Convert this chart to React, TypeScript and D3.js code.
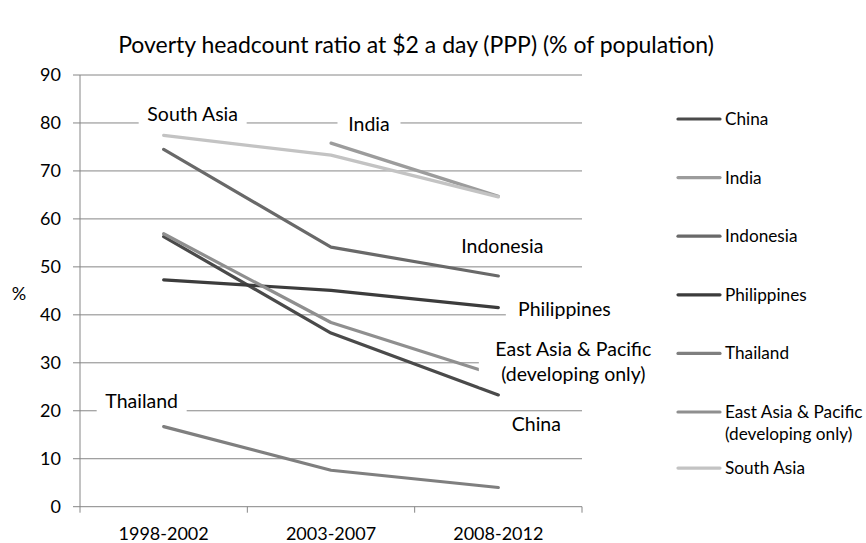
import React from "react";
import * as d3 from "d3";

// Periods on the category axis
const periods = ["1998-2002", "2003-2007", "2008-2012"];

// Poverty headcount ratio at $2 a day (% of population); null = no data
const china = [56.3, 36.2, 23.3];
const india = [null, 75.8, 64.7];
const indonesia = [74.5, 54.1, 48.1];
const philippines = [47.3, 45.1, 41.5];
const thailand = [16.7, 7.6, 4.0];
const eastAsiaPacific = [56.9, 38.4, 27.3];
const southAsia = [77.4, 73.3, 64.6];

const yTicks = [0, 10, 20, 30, 40, 50, 60, 70, 80, 90];

type Series = {
  name: string[];
  values: (number | null)[];
  color: string;
};

const series: Series[] = [
  { name: ["China"], values: china, color: "#4a4a4a" },
  { name: ["India"], values: india, color: "#9c9c9c" },
  { name: ["Indonesia"], values: indonesia, color: "#696969" },
  { name: ["Philippines"], values: philippines, color: "#3c3c3c" },
  { name: ["Thailand"], values: thailand, color: "#7f7f7f" },
  { name: ["East Asia & Pacific", "(developing only)"], values: eastAsiaPacific, color: "#8f8f8f" },
  { name: ["South Asia"], values: southAsia, color: "#c3c3c3" },
];

// In-plot series labels: anchored to a data point of the series, shifted in pixels
const annotations = [
  { series: 6, point: 0, dx: 29, dy: -14.5 },
  { series: 1, point: 1, dx: 38, dy: -12.5 },
  { series: 2, point: 2, dx: 4, dy: -23 },
  { series: 3, point: 2, dx: 66, dy: 8.5 },
  { series: 5, point: 2, dx: 75, dy: -19.5 },
  { series: 0, point: 2, dx: 38, dy: 36 },
  { series: 4, point: 0, dx: -22, dy: -18.5 },
];

const W = 866;
const H = 543;
const FONT = "Lato, 'Open Sans', sans-serif";

export default function App() {
  const left = 80;
  const right = 582;
  const top = 75;
  const bottom = 506.7;

  const x = d3.scaleBand<string>().domain(periods).range([left, right]);
  const xc = (i: number) => (x(periods[i]) as number) + x.bandwidth() / 2;
  const y = d3.scaleLinear().domain([0, 90]).range([bottom, top]);

  const line = d3
    .line<number | null>()
    .defined((d) => d !== null)
    .x((_, i) => xc(i))
    .y((d) => y(d as number));

  const axisSize = 18;
  const noteSize = 19.5;
  const lineGap = 25;

  const legendX = 678;
  const legendY0 = 119;
  const legendStep = 58.6;

  return (
    <svg
      width={W}
      height={H}
      style={{ position: "absolute", left: 0, top: 0, background: "#fff" }}
      fontFamily={FONT}
    >
      <rect width={W} height={H} fill="#fff" />
      <text x={416} y={53} textAnchor="middle" fontSize={23} fill="#000">
        Poverty headcount ratio at $2 a day (PPP) (% of population)
      </text>

      {/* gridlines and y axis */}
      {yTicks.map((t) => (
        <g key={t}>
          <line x1={left - 7} x2={right} y1={y(t)} y2={y(t)} stroke="#868686" strokeWidth={1} />
          <text x={61} y={y(t)} dy="0.36em" textAnchor="end" fontSize={axisSize} fill="#000">
            {t}
          </text>
        </g>
      ))}
      <line x1={left} x2={left} y1={top} y2={bottom} stroke="#868686" strokeWidth={1} />
      <text x={19} y={300} textAnchor="middle" fontSize={axisSize} fill="#000">
        %
      </text>

      {/* x axis */}
      {[...periods.map((p) => x(p) as number), right].map((px, i) => (
        <line key={i} x1={px} x2={px} y1={bottom} y2={bottom + 6} stroke="#868686" strokeWidth={1} />
      ))}
      {periods.map((p, i) => (
        <text key={p} x={xc(i)} y={540} textAnchor="middle" fontSize={axisSize} fill="#000">
          {p}
        </text>
      ))}

      {/* series lines */}
      {series.map((s) => (
        <path
          key={s.name[0]}
          d={line(s.values) || ""}
          fill="none"
          stroke={s.color}
          strokeWidth={3.2}
          strokeLinecap="round"
          strokeLinejoin="round"
        />
      ))}

      {/* series labels on white boxes */}
      {annotations.map((a) => {
        const s = series[a.series];
        const v = s.values[a.point] as number;
        const cx = xc(a.point) + a.dx;
        const by = y(v) + a.dy;
        const longest = d3.max(s.name, (n) => n.length) as number;
        const w = longest * 9 + 18;
        const h = noteSize + 4 + (s.name.length - 1) * lineGap;
        return (
          <g key={s.name[0]}>
            <rect x={cx - w / 2} y={by - noteSize + 1} width={w} height={h} fill="#fff" />
            <text textAnchor="middle" fontSize={noteSize} fill="#000">
              {s.name.map((n, k) => (
                <tspan key={k} x={cx} y={by + k * lineGap}>
                  {n}
                </tspan>
              ))}
            </text>
          </g>
        );
      })}

      {/* legend */}
      {series.map((s, i) => {
        const ly = legendY0 + i * legendStep - (i === series.length - 1 ? 2.5 : 0);
        return (
          <g key={s.name[0]}>
            <line
              x1={legendX}
              x2={legendX + 42}
              y1={ly}
              y2={ly}
              stroke={s.color}
              strokeWidth={3.2}
              strokeLinecap="round"
            />
            <text fontSize={17.2} fill="#000">
              {s.name.map((n, k) => (
                <tspan key={k} x={legendX + 47} y={ly + 6 + k * 22}>
                  {n}
                </tspan>
              ))}
            </text>
          </g>
        );
      })}
    </svg>
  );
}
